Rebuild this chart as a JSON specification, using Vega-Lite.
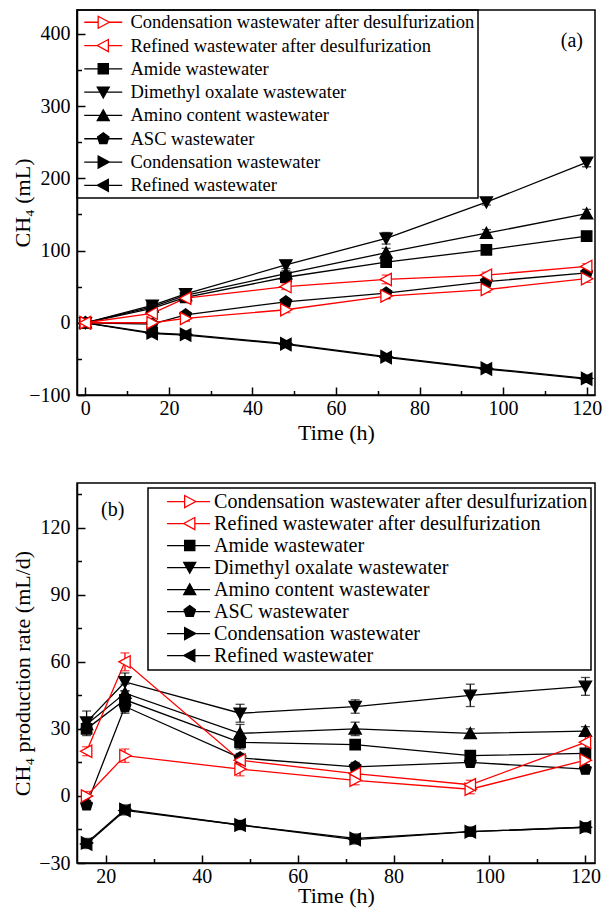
{
"$schema": "https://vega.github.io/schema/vega-lite/v6.json",
"background": "white",
"padding": {"left": 10, "top": 8, "right": 8, "bottom": 2},
"bounds": "flush",
"spacing": 88,
"config": {
  "view": {"stroke": "black", "strokeWidth": 1.5},
  "style": {"guide-label": {"font": "Liberation Serif", "fontSize": 20, "fill": "black"}, "guide-title": {"font": "Liberation Serif", "fontSize": 22, "fontWeight": "normal", "fill": "black"}},
  "axis": {"labelFont": "Liberation Serif", "labelFontSize": 20, "labelColor": "black", "titleFont": "Liberation Serif", "titleFontSize": 22, "titleFontWeight": "normal", "titleColor": "black", "domainColor": "black", "domainWidth": 1.5, "tickColor": "black", "tickWidth": 1.5, "grid": false, "titlePadding": 1, "labelFlush": false, "labelOverlap": false},
  "axisX": {"labelPadding": 11},
  "axisY": {"labelPadding": 15},
  "legend": {"orient": "none", "direction": "vertical", "strokeColor": "black", "strokeWidth": 1.5, "symbolSize": 144, "symbolStrokeWidth": 1.3, "symbolOpacity": 1, "labelFont": "Liberation Serif", "labelColor": "black", "labelLimit": 600, "title": null}
},
"datasets": {
"cum": [
{"s":"Condensation wastewater","t":0,"v":0,"e":0},{"s":"Condensation wastewater","t":16,"v":-14,"e":4},{"s":"Condensation wastewater","t":24,"v":-16,"e":4},{"s":"Condensation wastewater","t":48,"v":-29,"e":4},{"s":"Condensation wastewater","t":72,"v":-47,"e":4},{"s":"Condensation wastewater","t":96,"v":-63,"e":4},{"s":"Condensation wastewater","t":120,"v":-77,"e":4},
{"s":"Refined wastewater","t":0,"v":0,"e":0},{"s":"Refined wastewater","t":16,"v":-15,"e":4},{"s":"Refined wastewater","t":24,"v":-17,"e":4},{"s":"Refined wastewater","t":48,"v":-30,"e":4},{"s":"Refined wastewater","t":72,"v":-48,"e":4},{"s":"Refined wastewater","t":96,"v":-64,"e":4},{"s":"Refined wastewater","t":120,"v":-78,"e":4},
{"s":"Amide wastewater","t":0,"v":0,"e":0},{"s":"Amide wastewater","t":16,"v":20,"e":2},{"s":"Amide wastewater","t":24,"v":35,"e":3},{"s":"Amide wastewater","t":48,"v":63,"e":3},{"s":"Amide wastewater","t":72,"v":84,"e":4},{"s":"Amide wastewater","t":96,"v":101,"e":3},{"s":"Amide wastewater","t":120,"v":120,"e":3},
{"s":"Dimethyl oxalate wastewater","t":0,"v":0,"e":0},{"s":"Dimethyl oxalate wastewater","t":16,"v":24,"e":3},{"s":"Dimethyl oxalate wastewater","t":24,"v":40,"e":3},{"s":"Dimethyl oxalate wastewater","t":48,"v":80,"e":5},{"s":"Dimethyl oxalate wastewater","t":72,"v":117,"e":8},{"s":"Dimethyl oxalate wastewater","t":96,"v":167,"e":4},{"s":"Dimethyl oxalate wastewater","t":120,"v":222,"e":6},
{"s":"Amino content wastewater","t":0,"v":0,"e":0},{"s":"Amino content wastewater","t":16,"v":22,"e":3},{"s":"Amino content wastewater","t":24,"v":38,"e":3},{"s":"Amino content wastewater","t":48,"v":68,"e":4},{"s":"Amino content wastewater","t":72,"v":97,"e":6},{"s":"Amino content wastewater","t":96,"v":124,"e":5},{"s":"Amino content wastewater","t":120,"v":151,"e":6},
{"s":"ASC wastewater","t":0,"v":0,"e":0},{"s":"ASC wastewater","t":16,"v":-2,"e":3},{"s":"ASC wastewater","t":24,"v":11,"e":3},{"s":"ASC wastewater","t":48,"v":29,"e":4},{"s":"ASC wastewater","t":72,"v":41,"e":4},{"s":"ASC wastewater","t":96,"v":57,"e":4},{"s":"ASC wastewater","t":120,"v":69,"e":4},
{"s":"Condensation wastewater after desulfurization","t":0,"v":0,"e":0},{"s":"Condensation wastewater after desulfurization","t":16,"v":0,"e":3},{"s":"Condensation wastewater after desulfurization","t":24,"v":6,"e":4},{"s":"Condensation wastewater after desulfurization","t":48,"v":18,"e":4},{"s":"Condensation wastewater after desulfurization","t":72,"v":37,"e":4},{"s":"Condensation wastewater after desulfurization","t":96,"v":46,"e":4},{"s":"Condensation wastewater after desulfurization","t":120,"v":61,"e":5},
{"s":"Refined wastewater after desulfurization","t":0,"v":0,"e":0},{"s":"Refined wastewater after desulfurization","t":16,"v":13,"e":3},{"s":"Refined wastewater after desulfurization","t":24,"v":34,"e":3},{"s":"Refined wastewater after desulfurization","t":48,"v":50,"e":4},{"s":"Refined wastewater after desulfurization","t":72,"v":60,"e":6},{"s":"Refined wastewater after desulfurization","t":96,"v":66,"e":4},{"s":"Refined wastewater after desulfurization","t":120,"v":78,"e":4}
],
"rate": [
{"s":"Condensation wastewater","t":16,"v":-21,"e":2},{"s":"Condensation wastewater","t":24,"v":-6,"e":2},{"s":"Condensation wastewater","t":48,"v":-13,"e":2},{"s":"Condensation wastewater","t":72,"v":-19,"e":2},{"s":"Condensation wastewater","t":96,"v":-16,"e":2},{"s":"Condensation wastewater","t":120,"v":-14,"e":2},
{"s":"Refined wastewater","t":16,"v":-21.5,"e":2},{"s":"Refined wastewater","t":24,"v":-6.5,"e":2},{"s":"Refined wastewater","t":48,"v":-13,"e":2},{"s":"Refined wastewater","t":72,"v":-19.5,"e":2},{"s":"Refined wastewater","t":96,"v":-16,"e":2},{"s":"Refined wastewater","t":120,"v":-14,"e":2},
{"s":"Amide wastewater","t":16,"v":30,"e":3},{"s":"Amide wastewater","t":24,"v":43,"e":4},{"s":"Amide wastewater","t":48,"v":24,"e":3},{"s":"Amide wastewater","t":72,"v":23,"e":2},{"s":"Amide wastewater","t":96,"v":18,"e":2},{"s":"Amide wastewater","t":120,"v":19,"e":2},
{"s":"Dimethyl oxalate wastewater","t":16,"v":33,"e":5},{"s":"Dimethyl oxalate wastewater","t":24,"v":51,"e":4},{"s":"Dimethyl oxalate wastewater","t":48,"v":37,"e":4},{"s":"Dimethyl oxalate wastewater","t":72,"v":40,"e":3},{"s":"Dimethyl oxalate wastewater","t":96,"v":45,"e":5},{"s":"Dimethyl oxalate wastewater","t":120,"v":49,"e":4},
{"s":"Amino content wastewater","t":16,"v":32,"e":3},{"s":"Amino content wastewater","t":24,"v":46,"e":4},{"s":"Amino content wastewater","t":48,"v":28,"e":4},{"s":"Amino content wastewater","t":72,"v":30,"e":3},{"s":"Amino content wastewater","t":96,"v":28,"e":2},{"s":"Amino content wastewater","t":120,"v":29,"e":2},
{"s":"ASC wastewater","t":16,"v":-4,"e":2},{"s":"ASC wastewater","t":24,"v":40,"e":3},{"s":"ASC wastewater","t":48,"v":17,"e":2},{"s":"ASC wastewater","t":72,"v":13,"e":2},{"s":"ASC wastewater","t":96,"v":15,"e":2},{"s":"ASC wastewater","t":120,"v":12,"e":2},
{"s":"Condensation wastewater after desulfurization","t":16,"v":0,"e":2},{"s":"Condensation wastewater after desulfurization","t":24,"v":18,"e":3},{"s":"Condensation wastewater after desulfurization","t":48,"v":12,"e":3},{"s":"Condensation wastewater after desulfurization","t":72,"v":7,"e":2},{"s":"Condensation wastewater after desulfurization","t":96,"v":3,"e":2},{"s":"Condensation wastewater after desulfurization","t":120,"v":16,"e":2},
{"s":"Refined wastewater after desulfurization","t":16,"v":20,"e":2},{"s":"Refined wastewater after desulfurization","t":24,"v":60,"e":4},{"s":"Refined wastewater after desulfurization","t":48,"v":16,"e":2},{"s":"Refined wastewater after desulfurization","t":72,"v":10,"e":2},{"s":"Refined wastewater after desulfurization","t":96,"v":5,"e":2},{"s":"Refined wastewater after desulfurization","t":120,"v":24,"e":3}
]
},
"resolve": {"scale": {"shape": "independent", "fill": "independent", "stroke": "independent", "color": "independent"}},
"vconcat": [
{
  "width": 518, "height": 385,
  "title": {"text": "(a)", "anchor": "end", "offset": -58, "dx": -12, "baseline": "alphabetic", "font": "Liberation Serif", "fontSize": 20, "fontWeight": "normal", "color": "black", "frame": "group"},
  "data": {"name": "cum"},
  "resolve": {"scale": {"shape": "independent", "fill": "independent", "stroke": "independent", "color": "independent"}},
  "encoding": {
    "x": {"field": "t", "type": "quantitative", "scale": {"domain": [-2, 122], "nice": false, "zero": false},
      "axis": {"title": "Time (h)", "labelFont": "Liberation Serif", "titleFont": "Liberation Serif", "values": [0,10,20,30,40,50,60,70,80,90,100,110,120], "labelExpr": "datum.value % 20 === 0 ? datum.label : ''", "tickSize": {"condition": {"test": "datum.value % 20 === 0", "value": -8}, "value": -4.5}}},
    "y": {"field": "v", "type": "quantitative", "scale": {"domain": [-100, 433], "nice": false, "zero": false},
      "axis": {"title": "CH₄ (mL)", "labelFont": "Liberation Serif", "titleFont": "Liberation Serif", "titleX": -55, "titleBaseline": "middle", "values": [-100,-50,0,50,100,150,200,250,300,350,400], "labelExpr": "datum.value % 100 === 0 ? datum.label : ''", "tickSize": {"condition": {"test": "datum.value % 100 === 0", "value": -8}, "value": -4.5}}}
  },
  "layer": [
    {"mark": {"type": "line", "strokeWidth": 1.3},
     "encoding": {"stroke": {"field": "s", "type": "nominal", "legend": null, "scale": {"domain": ["Condensation wastewater after desulfurization","Refined wastewater after desulfurization","Amide wastewater","Dimethyl oxalate wastewater","Amino content wastewater","ASC wastewater","Condensation wastewater","Refined wastewater"], "range": ["#ff0000","#ff0000","black","black","black","black","black","black"]}}}},
    {"mark": {"type": "errorbar", "ticks": {"size": 9, "thickness": 1.3}, "rule": {"strokeWidth": 1.3}},
     "encoding": {"yError": {"field": "e"}, "color": {"field": "s", "type": "nominal", "legend": null, "scale": {"domain": ["Condensation wastewater after desulfurization","Refined wastewater after desulfurization","Amide wastewater","Dimethyl oxalate wastewater","Amino content wastewater","ASC wastewater","Condensation wastewater","Refined wastewater"], "range": ["#ff0000","#ff0000","black","black","black","black","black","black"]}}}},
    {"mark": {"type": "point", "filled": true, "size": 150, "strokeWidth": 1.3, "opacity": 1},
     "encoding": {
       "shape": {"field": "s", "type": "nominal", "legend": null, "scale": {"domain": ["Condensation wastewater after desulfurization","Refined wastewater after desulfurization","Amide wastewater","Dimethyl oxalate wastewater","Amino content wastewater","ASC wastewater","Condensation wastewater","Refined wastewater"], "range": ["M-0.85,-1L1,0L-0.85,1Z","M0.85,-1L-1,0L0.85,1Z","M-0.85,-0.85H0.85V0.85H-0.85Z","M-1,-0.85H1L0,0.95Z","M-1,0.85H1L0,-0.95Z","M0,-1L0.95,-0.31L0.59,0.81L-0.59,0.81L-0.95,-0.31Z","M-0.85,-1L1,0L-0.85,1Z","M0.85,-1L-1,0L0.85,1Z"]}},
       "fill": {"field": "s", "type": "nominal", "legend": null, "scale": {"domain": ["Condensation wastewater after desulfurization","Refined wastewater after desulfurization","Amide wastewater","Dimethyl oxalate wastewater","Amino content wastewater","ASC wastewater","Condensation wastewater","Refined wastewater"], "range": ["white","white","black","black","black","black","black","black"]}},
       "stroke": {"field": "s", "type": "nominal", "legend": null, "scale": {"domain": ["Condensation wastewater after desulfurization","Refined wastewater after desulfurization","Amide wastewater","Dimethyl oxalate wastewater","Amino content wastewater","ASC wastewater","Condensation wastewater","Refined wastewater"], "range": ["#ff0000","#ff0000","black","black","black","black","black","black"]}}
     }},
    {"transform": [{"filter": "false"}],
     "mark": {"type": "point", "filled": true, "opacity": 1},
     "encoding": {
       "shape": {"field": "s", "type": "nominal",
         "legend": {"legendX": 0, "legendY": 0, "padding": 3, "symbolOffset": 1, "labelOffset": 31, "labelFontSize": 18.5, "rowPadding": 4.3},
         "scale": {"domain": ["Condensation wastewater after desulfurization","Refined wastewater after desulfurization","Amide wastewater","Dimethyl oxalate wastewater","Amino content wastewater","ASC wastewater","Condensation wastewater","Refined wastewater"],
           "range": ["M-1,0H1.32M1.32,-1L3.17,0L1.32,1ZM3.17,0H5.33","M-1,0H1.17M3.02,-1L1.17,0L3.02,1ZM3.02,0H5.33","M-1,0H5.33M1.32,-0.85H3.02V0.85H1.32Z","M-1,0H5.33M1.17,-0.85H3.17L2.17,0.95Z","M-1,0H5.33M1.17,0.85H3.17L2.17,-0.95Z","M-1,0H5.33M2.17,-1L3.12,-0.31L2.76,0.81L1.58,0.81L1.22,-0.31Z","M-1,0H5.33M1.32,-1L3.17,0L1.32,1Z","M-1,0H5.33M3.02,-1L1.17,0L3.02,1Z"]}},
       "fill": {"field": "s", "type": "nominal",
         "legend": {"legendX": 0, "legendY": 0, "padding": 3, "symbolOffset": 1, "labelOffset": 31, "labelFontSize": 18.5, "rowPadding": 4.3},
         "scale": {"domain": ["Condensation wastewater after desulfurization","Refined wastewater after desulfurization","Amide wastewater","Dimethyl oxalate wastewater","Amino content wastewater","ASC wastewater","Condensation wastewater","Refined wastewater"], "range": ["white","white","black","black","black","black","black","black"]}},
       "stroke": {"field": "s", "type": "nominal",
         "legend": {"legendX": 0, "legendY": 0, "padding": 3, "symbolOffset": 1, "labelOffset": 31, "labelFontSize": 18.5, "rowPadding": 4.3},
         "scale": {"domain": ["Condensation wastewater after desulfurization","Refined wastewater after desulfurization","Amide wastewater","Dimethyl oxalate wastewater","Amino content wastewater","ASC wastewater","Condensation wastewater","Refined wastewater"], "range": ["#ff0000","#ff0000","black","black","black","black","black","black"]}}
     }}
  ]
},
{
  "width": 518, "height": 380,
  "title": {"text": "(b)", "anchor": "start", "offset": -53, "dx": 24, "baseline": "alphabetic", "font": "Liberation Serif", "fontSize": 20, "fontWeight": "normal", "color": "black", "frame": "group"},
  "data": {"name": "rate"},
  "resolve": {"scale": {"shape": "independent", "fill": "independent", "stroke": "independent", "color": "independent"}},
  "encoding": {
    "x": {"field": "t", "type": "quantitative", "scale": {"domain": [14, 122], "nice": false, "zero": false},
      "axis": {"title": "Time (h)", "titlePadding": -4, "labelFont": "Liberation Serif", "titleFont": "Liberation Serif", "values": [20,30,40,50,60,70,80,90,100,110,120], "labelExpr": "datum.value % 20 === 0 ? datum.label : ''", "tickSize": {"condition": {"test": "datum.value % 20 === 0", "value": -8}, "value": -4.5}}},
    "y": {"field": "v", "type": "quantitative", "scale": {"domain": [-30, 140], "nice": false, "zero": false},
      "axis": {"title": "CH₄ production rate (mL/d)", "labelFont": "Liberation Serif", "titleFont": "Liberation Serif", "titleX": -55, "titleBaseline": "middle", "values": [-30,-15,0,15,30,45,60,75,90,105,120,135], "labelExpr": "datum.value % 30 === 0 ? datum.label : ''", "tickSize": {"condition": {"test": "datum.value % 30 === 0", "value": -8}, "value": -4.5}}}
  },
  "layer": [
    {"mark": {"type": "line", "strokeWidth": 1.3},
     "encoding": {"stroke": {"field": "s", "type": "nominal", "legend": null, "scale": {"domain": ["Condensation wastewater after desulfurization","Refined wastewater after desulfurization","Amide wastewater","Dimethyl oxalate wastewater","Amino content wastewater","ASC wastewater","Condensation wastewater","Refined wastewater"], "range": ["#ff0000","#ff0000","black","black","black","black","black","black"]}}}},
    {"mark": {"type": "errorbar", "ticks": {"size": 9, "thickness": 1.3}, "rule": {"strokeWidth": 1.3}},
     "encoding": {"yError": {"field": "e"}, "color": {"field": "s", "type": "nominal", "legend": null, "scale": {"domain": ["Condensation wastewater after desulfurization","Refined wastewater after desulfurization","Amide wastewater","Dimethyl oxalate wastewater","Amino content wastewater","ASC wastewater","Condensation wastewater","Refined wastewater"], "range": ["#ff0000","#ff0000","black","black","black","black","black","black"]}}}},
    {"mark": {"type": "point", "filled": true, "size": 150, "strokeWidth": 1.3, "opacity": 1},
     "encoding": {
       "shape": {"field": "s", "type": "nominal", "legend": null, "scale": {"domain": ["Condensation wastewater after desulfurization","Refined wastewater after desulfurization","Amide wastewater","Dimethyl oxalate wastewater","Amino content wastewater","ASC wastewater","Condensation wastewater","Refined wastewater"], "range": ["M-0.85,-1L1,0L-0.85,1Z","M0.85,-1L-1,0L0.85,1Z","M-0.85,-0.85H0.85V0.85H-0.85Z","M-1,-0.85H1L0,0.95Z","M-1,0.85H1L0,-0.95Z","M0,-1L0.95,-0.31L0.59,0.81L-0.59,0.81L-0.95,-0.31Z","M-0.85,-1L1,0L-0.85,1Z","M0.85,-1L-1,0L0.85,1Z"]}},
       "fill": {"field": "s", "type": "nominal", "legend": null, "scale": {"domain": ["Condensation wastewater after desulfurization","Refined wastewater after desulfurization","Amide wastewater","Dimethyl oxalate wastewater","Amino content wastewater","ASC wastewater","Condensation wastewater","Refined wastewater"], "range": ["white","white","black","black","black","black","black","black"]}},
       "stroke": {"field": "s", "type": "nominal", "legend": null, "scale": {"domain": ["Condensation wastewater after desulfurization","Refined wastewater after desulfurization","Amide wastewater","Dimethyl oxalate wastewater","Amino content wastewater","ASC wastewater","Condensation wastewater","Refined wastewater"], "range": ["#ff0000","#ff0000","black","black","black","black","black","black"]}}
     }},
    {"transform": [{"filter": "false"}],
     "mark": {"type": "point", "filled": true, "opacity": 1},
     "encoding": {
       "shape": {"field": "s", "type": "nominal",
         "legend": {"legendX": 71, "legendY": 5, "padding": 3.5, "symbolOffset": 11.5, "labelOffset": 31, "labelFontSize": 20.1, "rowPadding": 1.0},
         "scale": {"domain": ["Condensation wastewater after desulfurization","Refined wastewater after desulfurization","Amide wastewater","Dimethyl oxalate wastewater","Amino content wastewater","ASC wastewater","Condensation wastewater","Refined wastewater"],
           "range": ["M-1,0H1.93M1.93,-1L3.78,0L1.93,1ZM3.78,0H6.17","M-1,0H1.78M3.63,-1L1.78,0L3.63,1ZM3.63,0H6.17","M-1,0H6.17M1.93,-0.85H3.63V0.85H1.93Z","M-1,0H6.17M1.78,-0.85H3.78L2.78,0.95Z","M-1,0H6.17M1.78,0.85H3.78L2.78,-0.95Z","M-1,0H6.17M2.78,-1L3.73,-0.31L3.37,0.81L2.19,0.81L1.83,-0.31Z","M-1,0H6.17M1.93,-1L3.78,0L1.93,1Z","M-1,0H6.17M3.63,-1L1.78,0L3.63,1Z"]}},
       "fill": {"field": "s", "type": "nominal",
         "legend": {"legendX": 71, "legendY": 5, "padding": 3.5, "symbolOffset": 11.5, "labelOffset": 31, "labelFontSize": 20.1, "rowPadding": 1.0},
         "scale": {"domain": ["Condensation wastewater after desulfurization","Refined wastewater after desulfurization","Amide wastewater","Dimethyl oxalate wastewater","Amino content wastewater","ASC wastewater","Condensation wastewater","Refined wastewater"], "range": ["white","white","black","black","black","black","black","black"]}},
       "stroke": {"field": "s", "type": "nominal",
         "legend": {"legendX": 71, "legendY": 5, "padding": 3.5, "symbolOffset": 11.5, "labelOffset": 31, "labelFontSize": 20.1, "rowPadding": 1.0},
         "scale": {"domain": ["Condensation wastewater after desulfurization","Refined wastewater after desulfurization","Amide wastewater","Dimethyl oxalate wastewater","Amino content wastewater","ASC wastewater","Condensation wastewater","Refined wastewater"], "range": ["#ff0000","#ff0000","black","black","black","black","black","black"]}}
     }}
  ]
}
]
}
